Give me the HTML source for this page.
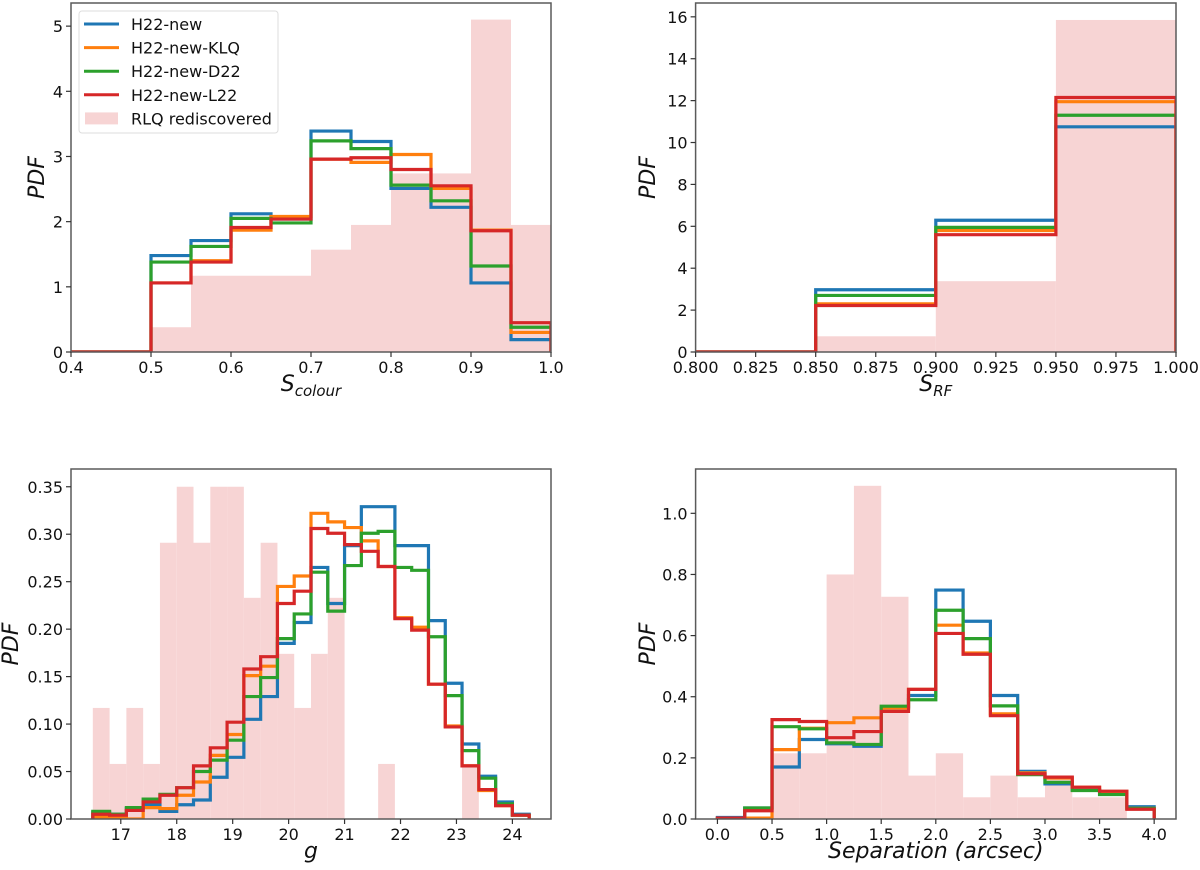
<!DOCTYPE html>
<html><head><meta charset="utf-8"><style>
body{margin:0;background:#fff;}
svg{display:block;font-family:"DejaVu Sans","Liberation Sans",sans-serif;}
</style></head><body>
<svg id="fig" width="1200" height="870" viewBox="0 0 1200 870" xmlns="http://www.w3.org/2000/svg"></svg>
<script>
// ---- Panel A: S_colour ----
const aEdges = [0.4,0.45,0.5,0.55,0.6,0.65,0.7,0.75,0.8,0.85,0.9,0.95,1.0];
const aPink  = [0,0,0.38,1.17,1.17,1.17,1.57,1.95,2.74,2.74,5.10,1.95];
const aBlue  = [0,0,1.48,1.71,2.12,2.04,3.39,3.23,2.51,2.22,1.06,0.19];
const aOrange= [0,0,1.06,1.40,1.87,2.08,2.96,2.91,3.03,2.51,1.87,0.30];
const aGreen = [0,0,1.38,1.62,2.05,1.98,3.24,3.12,2.56,2.32,1.32,0.38];
const aRed   = [0,0,1.06,1.38,1.91,2.04,2.96,2.98,2.80,2.55,1.86,0.45];
const aXTicks = ["0.4","0.5","0.6","0.7","0.8","0.9","1.0"];
const aYTicks = ["0","1","2","3","4","5"];
// ---- Panel B: S_RF ----
const bEdges = [0.8,0.85,0.9,0.95,1.0];
const bPink  = [0,0.75,3.38,15.85];
const bBlue  = [0,2.97,6.29,10.75];
const bOrange= [0,2.30,5.80,11.95];
const bGreen = [0,2.70,5.95,11.30];
const bRed   = [0,2.22,5.60,12.15];
const bXTicks = ["0.800","0.825","0.850","0.875","0.900","0.925","0.950","0.975","1.000"];
const bYTicks = ["0","2","4","6","8","10","12","14","16"];
// ---- Panel C: g ----
const cStart = 16.5, cWidth = 0.3;
const cPink  = [0.117,0.058,0.117,0.058,0.291,0.35,0.291,0.35,0.35,0.233,0.291,0.174,0.117,0.174,0.233,0,0,0.058,0,0,0,0,0.058,0,0,0];
const cBlue  = [0.007,0.005,0.011,0.015,0.008,0.015,0.020,0.044,0.065,0.105,0.129,0.185,0.207,0.265,0.227,0.288,0.329,0.329,0.288,0.288,0.209,0.143,0.079,0.045,0.018,0.005];
const cOrange= [0.002,0.001,0,0.012,0.011,0.025,0.039,0.067,0.089,0.151,0.161,0.245,0.256,0.322,0.313,0.307,0.293,0.266,0.212,0.202,0.142,0.098,0.056,0.030,0.014,0.004];
const cGreen = [0.008,0.005,0.012,0.021,0.026,0.033,0.050,0.062,0.083,0.129,0.149,0.190,0.216,0.260,0.219,0.267,0.301,0.303,0.265,0.262,0.192,0.130,0.072,0.043,0.016,0.004];
const cRed   = [0.005,0.004,0.009,0.018,0.025,0.033,0.056,0.075,0.102,0.158,0.171,0.227,0.240,0.306,0.301,0.289,0.282,0.266,0.211,0.199,0.142,0.097,0.056,0.031,0.014,0.004];
const cXTicks = ["17","18","19","20","21","22","23","24"];
const cYTicks = ["0.00","0.05","0.10","0.15","0.20","0.25","0.30","0.35"];
// ---- Panel D: Separation ----
const dStart = 0, dWidth = 0.25;
const dPink  = [0,0,0.215,0.215,0.80,1.09,0.727,0.142,0.215,0.071,0.142,0.071,0.142,0.071,0.071,0];
const dBlue  = [0.005,0.036,0.17,0.26,0.246,0.238,0.363,0.404,0.749,0.647,0.404,0.156,0.115,0.095,0.082,0.040];
const dOrange= [0.003,0.003,0.227,0.297,0.315,0.331,0.363,0.424,0.634,0.543,0.344,0.151,0.134,0.104,0.090,0.035];
const dGreen = [0.003,0.036,0.302,0.295,0.249,0.244,0.369,0.39,0.683,0.59,0.37,0.145,0.12,0.093,0.08,0.035];
const dRed   = [0.003,0.027,0.325,0.319,0.266,0.286,0.352,0.424,0.607,0.539,0.338,0.148,0.137,0.104,0.091,0.032];
const dXTicks = ["0.0","0.5","1.0","1.5","2.0","2.5","3.0","3.5","4.0"];
const dYTicks = ["0.0","0.2","0.4","0.6","0.8","1.0"];

const seriesNames = ["H22-new","H22-new-KLQ","H22-new-D22","H22-new-L22"];
const colors = ["#1f77b4","#ff7f0e","#2ca02c","#d62728"];
const NS = "http://www.w3.org/2000/svg";
const fig = document.getElementById("fig");
function mk(tag, attrs, parent){
  const e = document.createElementNS(NS, tag);
  for (const k in attrs) e.setAttribute(k, attrs[k]);
  (parent||fig).appendChild(e);
  return e;
}
function seqEdges(start, w, n){ const e=[]; for(let i=0;i<=n;i++) e.push(+(start+w*i).toFixed(6)); return e; }

function panel(cfg){
  const g = mk("g", {});
  
  
  const X = v => cfg.x0 + (v - cfg.xmin) / (cfg.xmax - cfg.xmin) * (cfg.x1 - cfg.x0);
  const Y = v => cfg.y1 - (v - 0) / cfg.ymax * (cfg.y1 - cfg.y0);
  const clip = mk("clipPath", {id: cfg.name+"-clip"}, g);
  mk("rect", {x:cfg.x0, y:cfg.y0, width:cfg.x1-cfg.x0, height:cfg.y1-cfg.y0}, clip);
  const plot = mk("g", {"clip-path":"url(#"+cfg.name+"-clip)"}, g);
  const ed = cfg.edges;
  cfg.pink.forEach((v,i)=>{
    if (v<=0) return;
    const r = mk("rect", {x:X(ed[i]), y:Y(v), width:X(ed[i+1])-X(ed[i]), height:Y(0)-Y(v), fill:"#f7d4d4"}, plot);
    
    
  });
  cfg.series.forEach((vals,si)=>{
    let d = "M"+X(ed[0])+","+Y(0);
    vals.forEach((v,i)=>{ d += " L"+X(ed[i])+","+Y(v)+" L"+X(ed[i+1])+","+Y(v); });
    d += " L"+X(ed[ed.length-1])+","+Y(0);
    const p = mk("path", {d:d, fill:"none", stroke:colors[si], "stroke-width":3.2, "stroke-linejoin":"miter"}, plot);
    
    
  });
  const fr = mk("rect", {x:cfg.x0, y:cfg.y0, width:cfg.x1-cfg.x0, height:cfg.y1-cfg.y0, fill:"none", stroke:"#5a5a5a", "stroke-width":1.5}, g);
  
  
  cfg.xticks.forEach(t=>{
    const x = X(parseFloat(t));
    mk("line", {x1:x, x2:x, y1:cfg.y1, y2:cfg.y1+5, stroke:"#333", "stroke-width":1.2}, g);
    const tx = mk("text", {x:x, y:cfg.y1+21, "text-anchor":"middle", "font-size":16, fill:"#111"}, g);
    tx.textContent = t;
    
    
  });
  cfg.yticks.forEach(t=>{
    const y = Y(parseFloat(t));
    mk("line", {x1:cfg.x0-5, x2:cfg.x0, y1:y, y2:y, stroke:"#333", "stroke-width":1.2}, g);
    const tx = mk("text", {x:cfg.x0-8, y:y+6, "text-anchor":"end", "font-size":16, fill:"#111"}, g);
    tx.textContent = t;
    
    
  });
  const yl = mk("text", {x:0, y:0, transform:"translate("+cfg.ylx+","+((cfg.y0+cfg.y1)/2)+") rotate(-90)", "text-anchor":"middle", "font-size":22, "font-style":"italic", fill:"#111"}, g);
  yl.textContent = "PDF";
  
  
  const xl = mk("text", {x:(cfg.x0+cfg.x1)/2, y:cfg.y1+39, "text-anchor":"middle", "font-size":22, "font-style":"italic", fill:"#111"}, g);
  
  
  if (cfg.sub){
    const s1 = mk("tspan", {}, xl); s1.textContent = cfg.xlabel;
    const s2 = mk("tspan", {"font-size":15, dy:5}, xl); s2.textContent = cfg.sub;
  } else xl.textContent = cfg.xlabel;
  return g;
}

panel({name:"panel-s-colour", x0:71, x1:551, y0:3, y1:352, xmin:0.4, xmax:1.0, ymax:5.355,
  edges:aEdges, pink:aPink, series:[aBlue,aOrange,aGreen,aRed], xticks:aXTicks, yticks:aYTicks,
  ylx:44, xlabel:"S", sub:"colour"});
panel({name:"panel-s-rf", x0:695.6, x1:1176, y0:3, y1:352, xmin:0.8, xmax:1.0, ymax:16.66,
  edges:bEdges, pink:bPink, series:[bBlue,bOrange,bGreen,bRed], xticks:bXTicks, yticks:bYTicks,
  ylx:655, xlabel:"S", sub:"RF"});
panel({name:"panel-g", x0:71, x1:551, y0:469, y1:819, xmin:16.11, xmax:24.69, ymax:0.3687,
  edges:seqEdges(cStart,cWidth,cPink.length), pink:cPink, series:[cBlue,cOrange,cGreen,cRed], xticks:cXTicks, yticks:cYTicks,
  ylx:18, xlabel:"g"});
panel({name:"panel-separation", x0:695.6, x1:1176, y0:469, y1:819, xmin:-0.2, xmax:4.2, ymax:1.145,
  edges:seqEdges(dStart,dWidth,dPink.length), pink:dPink, series:[dBlue,dOrange,dGreen,dRed], xticks:dXTicks, yticks:dYTicks,
  ylx:655, xlabel:"Separation (arcsec)"});

const lg = mk("g", {});


mk("rect", {x:79, y:11, width:199, height:122, rx:3, fill:"#fff", "fill-opacity":0.85, stroke:"#ddd", "stroke-width":1}, lg);
const labels = seriesNames.concat(["RLQ rediscovered"]);
labels.forEach((lab,i)=>{
  const y = 24 + i*23.6;
  let h;
  if (i<4) h = mk("line", {x1:84, x2:119, y1:y, y2:y, stroke:colors[i], "stroke-width":3}, lg);
  else h = mk("rect", {x:85, y:y-6, width:33, height:12, fill:"#f7d4d4"}, lg);
  
  
  const t = mk("text", {x:131, y:y+6, "font-size":16, fill:"#111"}, lg);
  t.textContent = lab;
  
  
});
</script>
</body></html>
